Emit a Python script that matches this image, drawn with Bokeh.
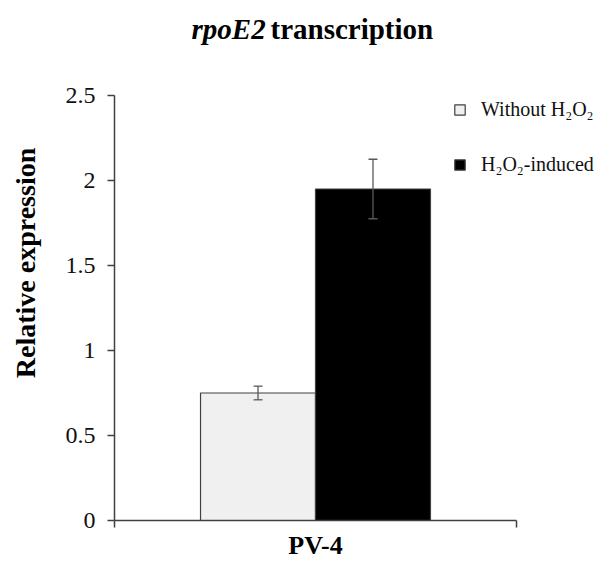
from bokeh.plotting import figure
from bokeh.models import (ColumnDataSource, Whisker, TeeHead, FixedTicker, Label,
                          Legend, LegendItem, Range1d, LinearAxis)
from bokeh.embed import file_html
from bokeh.resources import INLINE

# ---- data ----
categories = ["PV-4"]
series_names = ["Without H\u2082O\u2082", "H\u2082O\u2082-induced"]
without_vals = [0.75]
without_err = [0.04]
induced_vals = [1.95]
induced_err = [0.175]
y_ticks = [0, 0.5, 1, 1.5, 2, 2.5]
y_tick_labels = ["0", "0.5", "1", "1.5", "2", "2.5"]
y_max = 2.5

bar_w = 0.286
n_cat = len(categories)
centers = [i + 0.5 for i in range(n_cat)]

src_a = ColumnDataSource(dict(
    x=[c - bar_w / 2 for c in centers], top=without_vals,
    upper=[v + e for v, e in zip(without_vals, without_err)],
    lower=[v - e for v, e in zip(without_vals, without_err)]))
src_b = ColumnDataSource(dict(
    x=[c + bar_w / 2 for c in centers], top=induced_vals,
    upper=[v + e for v, e in zip(induced_vals, induced_err)],
    lower=[v - e for v, e in zip(induced_vals, induced_err)]))

SERIF = "Liberation Serif"

axis_px_h = 425        # pixel height of the 0..2.5 axis
axis_px_w = 402        # pixel width of the category axis
frame_h = 515          # frame includes room for the title above the axis
frame_w = 486          # frame includes room for the legend right of the axis
p = figure(frame_width=frame_w, frame_height=frame_h, output_backend="svg",
           toolbar_location=None,
           x_range=Range1d(0, n_cat * frame_w / axis_px_w),
           y_range=Range1d(0, y_max * frame_h / axis_px_h),
           min_border_left=114, min_border_top=5,
           min_border_right=0, min_border_bottom=5)
p.outline_line_color = None
p.grid.grid_line_color = None
p.background_fill_color = "white"

ra = p.vbar(x="x", top="top", width=bar_w, bottom=0, source=src_a,
            fill_color="#f0f0f0", line_color="#404040", line_width=1.2)
rb = p.vbar(x="x", top="top", width=bar_w, bottom=0, source=src_b,
            fill_color="#000000", line_color="#404040", line_width=1.2)

for src in (src_a, src_b):
    w = Whisker(source=src, base="x", upper="upper", lower="lower",
                line_color="#595959", line_width=1.3, level="annotation",
                upper_head=TeeHead(size=9, line_color="#595959", line_width=1.3),
                lower_head=TeeHead(size=9, line_color="#595959", line_width=1.3))
    p.add_layout(w)

# y axis
yax = p.yaxis[0]
yax.bounds = (0, y_max)
yax.ticker = FixedTicker(ticks=y_ticks)
yax.major_label_overrides = {t: l for t, l in zip(y_ticks, y_tick_labels)}
yax.major_label_text_font = SERIF
yax.major_label_text_font_size = "24px"
yax.major_label_text_color = "#111111"
yax.major_tick_out = 7
yax.major_tick_in = 0
yax.minor_tick_line_color = None
yax.major_label_standoff = 12
yax.axis_line_color = "#404040"
yax.axis_line_width = 1.5
yax.major_tick_line_color = "#404040"
yax.major_tick_line_width = 1.5
yax.axis_label = "Relative expression"
yax.axis_label_text_font = SERIF
yax.axis_label_text_font_style = "bold"
yax.axis_label_text_font_size = "28px"
yax.axis_label_text_color = "black"
yax.axis_label_standoff = 22

# x axis line with tick marks at the category boundaries
xax = p.xaxis[0]
xax.bounds = (0, n_cat)
xax.ticker = FixedTicker(ticks=[0, n_cat])
xax.major_label_overrides = {0: "", n_cat: ""}
xax.major_label_text_font_size = "0px"
xax.major_label_standoff = 0
xax.major_tick_out = 7
xax.major_tick_in = 0
xax.minor_tick_line_color = None
xax.axis_line_color = "#404040"
xax.axis_line_width = 1.5
xax.major_tick_line_color = "#404040"
xax.major_tick_line_width = 1.5

# second axis carrying the category names, centred under each category
cat_axis = LinearAxis(ticker=FixedTicker(ticks=centers),
                      major_label_overrides={c: n for c, n in zip(centers, categories)},
                      axis_line_color=None, major_tick_line_color=None,
                      minor_tick_line_color=None, major_tick_out=0, major_tick_in=0,
                      major_label_standoff=3,
                      major_label_text_font=SERIF,
                      major_label_text_font_style="bold",
                      major_label_text_font_size="26px",
                      major_label_text_color="black")
p.add_layout(cat_axis, "below")

# title (mixed italic / bold)
title_y = y_max * (520 - 28) / axis_px_h
t1 = Label(x=0.376, y=title_y, text="rpoE2", text_font=SERIF,
           text_font_style="bold italic", text_font_size="29px",
           text_align="right", text_baseline="alphabetic", text_color="black")
t2 = Label(x=0.388, y=title_y, text="transcription", text_font=SERIF,
           text_font_style="bold", text_font_size="29px",
           text_align="left", text_baseline="alphabetic", text_color="black")
p.add_layout(t1)
p.add_layout(t2)

legend = Legend(items=[LegendItem(label=series_names[0], renderers=[ra]),
                       LegendItem(label=series_names[1], renderers=[rb])],
                location=(339, 344), orientation="vertical",
                border_line_color=None, background_fill_alpha=0,
                label_text_font=SERIF, label_text_font_size="20px",
                label_text_color="#111111", glyph_width=13, glyph_height=13,
                label_standoff=15, spacing=32, padding=0, margin=0,
                label_height=20)
p.add_layout(legend)

open("out.html", "w").write(file_html(p, INLINE))
